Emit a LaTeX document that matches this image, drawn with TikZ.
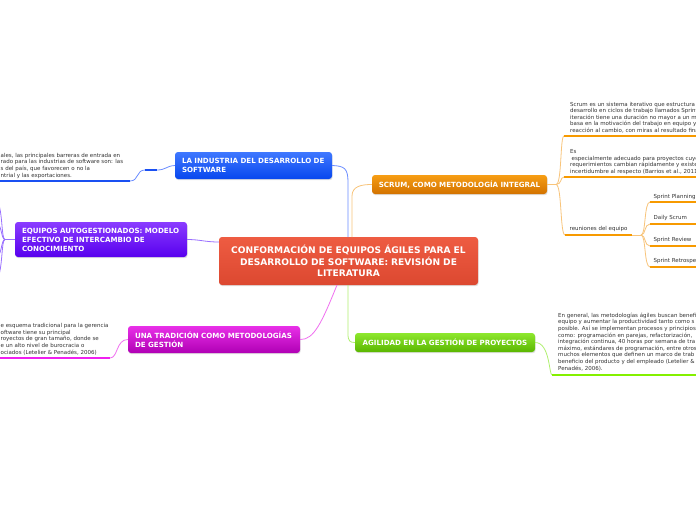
\documentclass[tikz,border=0pt]{standalone}
\usepackage{fontspec}
\setmainfont{DejaVu Sans}
\usetikzlibrary{shadows}
\definecolor{redT}{HTML}{EE5C42}
\definecolor{redB}{HTML}{DC4830}
\definecolor{blueT}{HTML}{3F78FF}
\definecolor{blueB}{HTML}{0847EE}
\definecolor{blueL}{HTML}{1A50F2}
\definecolor{blueC}{HTML}{6A8CFF}
\definecolor{purT}{HTML}{8A3CFF}
\definecolor{purB}{HTML}{5800EE}
\definecolor{purC}{HTML}{9A70FF}
\definecolor{magT}{HTML}{E830E8}
\definecolor{magB}{HTML}{B000B4}
\definecolor{magL}{HTML}{F020F0}
\definecolor{magC}{HTML}{F070F0}
\definecolor{oraT}{HTML}{F79E14}
\definecolor{oraB}{HTML}{D27200}
\definecolor{oraL}{HTML}{F79A00}
\definecolor{oraC}{HTML}{F8C47A}
\definecolor{greT}{HTML}{8EE82E}
\definecolor{greB}{HTML}{5AB600}
\definecolor{greL}{HTML}{84F000}
\definecolor{greC}{HTML}{B0F070}
\definecolor{txt}{HTML}{333333}
\begin{document}
\begin{tikzpicture}[x=1pt,y=-1pt,
  topic/.style={rounded corners=3pt, inner ysep=0pt, inner xsep=7pt, text=white,
    font=\bfseries\fontsize{7.1}{9}\selectfont,
    drop shadow={shadow xshift=0.6pt, shadow yshift=-1.2pt, opacity=0.25}},
  leaf/.style={inner sep=0pt, anchor=base west, align=left, text=txt,
    font=\fontsize{5.5}{6.6}\selectfont},
  conn/.style={line width=0.8pt},
  ul/.style={line width=2.4pt},
]
\useasboundingbox (0,0) rectangle (696,520);
\fill[white] (0,0) rectangle (696,520);

% central
\node[topic, top color=redT, bottom color=redB, text width=245pt, align=center,
  minimum height=48pt, font=\bfseries\fontsize{9.1}{11.5}\selectfont]
  (root) at (348.5,261) {CONFORMACIÓN DE EQUIPOS ÁGILES PARA EL\\DESARROLLO DE SOFTWARE: REVISIÓN DE\\LITERATURA};

% main topics
\node[topic, top color=blueT, bottom color=blueB, text width=143pt, align=left, minimum height=27pt]
  (ind) at (253.5,165.5) {LA INDUSTRIA DEL DESARROLLO DE\\SOFTWARE};
\node[topic, top color=purT, bottom color=purB, text width=158pt, align=left, minimum height=35pt]
  (equ) at (101,239.5) {EQUIPOS AUTOGESTIONADOS: MODELO\\EFECTIVO DE INTERCAMBIO DE\\CONOCIMIENTO};
\node[topic, top color=magT, bottom color=magB, text width=158pt, align=left, minimum height=27pt]
  (tra) at (214,339.5) {UNA TRADICIÓN COMO METODOLOGÍAS\\DE GESTIÓN};
\node[topic, top color=oraT, bottom color=oraB, text width=167pt, inner xsep=4pt, align=center, minimum height=19pt]
  (scr) at (459.5,184.5) {SCRUM, COMO METODOLOGÍA INTEGRAL};
\node[topic, top color=greT, bottom color=greB, text width=172pt, inner xsep=4pt, align=center, minimum height=19pt]
  (agi) at (445,342.5) {AGILIDAD EN LA GESTIÓN DE PROYECTOS};

% root connectors
\coordinate (rtB) at (348,237);
\coordinate (rtO) at (352,237);
\coordinate (rbG) at (348,285);
\coordinate (rbM) at (337,285);
\draw[conn, blueC] (rtB) -- (348,182) .. controls (348,168) and (344,166) .. (ind.east);
\draw[conn, oraC] (rtO) -- (352,196) .. controls (352,186) and (362,184.5) .. (scr.west);
\draw[conn, greC] (rbG) -- (348,334) .. controls (348,341) and (350,342.5) .. (agi.west);
\draw[conn, magC] (rbM) .. controls (322,322) and (314,340) .. (tra.east);
\draw[conn, purC] (root.west |- 0,242) .. controls (205,242) and (200,239.5) .. (equ.east);

% ---------- blue branch
\coordinate (e2) at (157,170);
\coordinate (e1) at (145,170);
\coordinate (bl) at (0,181);
\coordinate (br) at (130,181);
\draw[conn, blueC] (ind.west) .. controls (166,166) and (166,170) .. (e2);
\draw[ul, blueL] (e1) -- (e2);
\draw[conn, blueC] (e1) .. controls (136,170) and (139,181) .. (br);
\draw[ul, blueL] (bl) -- (br);
\node[leaf] (indt) at (0.5,177) {ales, las principales barreras de entrada en\\rado para las industrias de software son: las\\s del país, que favorecen o no la\\ntrial y las exportaciones.};

% ---------- purple branch
\coordinate (ph) at (5,239.5);
\coordinate (p1) at (-4,200);
\coordinate (p2) at (-4,222);
\coordinate (p3) at (-4,258);
\coordinate (p4) at (-4,280);
\draw[conn, purC] (equ.west) -- (ph);
\draw[conn, purC] (ph) .. controls (1,239.5) and (3,205) .. (p1);
\draw[conn, purC] (ph) .. controls (1,239.5) and (2,224) .. (p2);
\draw[conn, purC] (ph) .. controls (1,239.5) and (2,256) .. (p3);
\draw[conn, purC] (ph) .. controls (1,239.5) and (3,275) .. (p4);

% ---------- magenta branch
\coordinate (ml) at (0,358);
\coordinate (mr) at (110,358);
\draw[conn, magC] (tra.west) .. controls (116,339.5) and (118,358) .. (mr);
\draw[ul, magL] (ml) -- (mr);
\node[leaf] (trat) at (0.5,354) {e esquema tradicional para la gerencia\\oftware tiene su principal\\royectos de gran tamaño, donde se\\e un alto nivel de burocracia o\\ociados (Letelier \& Penadés, 2006)};

% ---------- orange branch
\coordinate (oh) at (556,184.5);
\coordinate (s1l) at (564,136);
\coordinate (s1r) at (700,136);
\coordinate (s2l) at (564,177);
\coordinate (s2r) at (700,177);
\coordinate (s3l) at (565,235);
\coordinate (s3r) at (632,235);
\draw[conn, oraC] (scr.east) -- (oh);
\draw[conn, oraC] (oh) .. controls (562,184.5) and (560,136) .. (s1l);
\draw[conn, oraC] (oh) .. controls (562,184.5) and (560,177) .. (s2l);
\draw[conn, oraC] (oh) .. controls (562,184.5) and (560,235) .. (s3l);
\draw[ul, oraL] (s1l) -- (s1r);
\draw[ul, oraL] (s2l) -- (s2r);
\draw[ul, oraL] (s3l) -- (s3r);
\node[leaf] (s1t) at (570,132.5) {Scrum es un sistema iterativo que estructura\\desarrollo en ciclos de trabajo llamados Sprint\\iteración tiene una duración no mayor a un m\\basa en la motivación del trabajo en equipo y\\reacción al cambio, con miras al resultado fina};
\node[leaf] (s2t) at (570,173.5) {Es\\\hspace{1.5pt}especialmente adecuado para proyectos cuyo\\requerimientos cambian rápidamente y existe\\incertidumbre al respecto (Barrios et al., 2011};
\node[leaf] (s3t) at (569.5,230) {reuniones del equipo};

% sprint sub-branch
\coordinate (sh) at (641,235);
\coordinate (q1l) at (650,202);
\coordinate (q2l) at (650,224);
\coordinate (q3l) at (650,246);
\coordinate (q4l) at (650,267);
\coordinate (q1r) at (700,202);
\coordinate (q2r) at (700,224);
\coordinate (q3r) at (700,246);
\coordinate (q4r) at (700,267);
\draw[conn, oraC] (s3r) -- (sh);
\draw[conn, oraC] (sh) .. controls (646,235) and (644,202) .. (q1l);
\draw[conn, oraC] (sh) .. controls (646,235) and (644,224) .. (q2l);
\draw[conn, oraC] (sh) .. controls (646,235) and (644,246) .. (q3l);
\draw[conn, oraC] (sh) .. controls (646,235) and (644,267) .. (q4l);
\draw[ul, oraL] (q1l) -- (q1r);
\draw[ul, oraL] (q2l) -- (q2r);
\draw[ul, oraL] (q3l) -- (q3r);
\draw[ul, oraL] (q4l) -- (q4r);
\node[leaf] (q1t) at (653.5,198) {Sprint Planning};
\node[leaf] (q2t) at (653.5,219.5) {Daily Scrum};
\node[leaf] (q3t) at (653.5,241.5) {Sprint Review};
\node[leaf] (q4t) at (653.5,262.5) {Sprint Retrospe};

% ---------- green branch
\coordinate (gl) at (552,375);
\coordinate (gr) at (700,375);
\draw[conn, greC] (agi.east) .. controls (550,342.5) and (549,375) .. (gl);
\draw[ul, greL] (gl) -- (gr);
\node[leaf] (agit) at (558,370) {En general, las metodologías ágiles buscan benefi\\equipo y aumentar la productividad tanto como s\\posible. Así se implementan procesos y principios\\como: programación en parejas, refactorización,\\integración continua, 40 horas por semana de tra\\máximo, estándares de programación, entre otros\\muchos elementos que definen un marco de trab\\beneficio del producto y del empleado (Letelier \&\\Penadés, 2006).};
\end{tikzpicture}
\end{document}
